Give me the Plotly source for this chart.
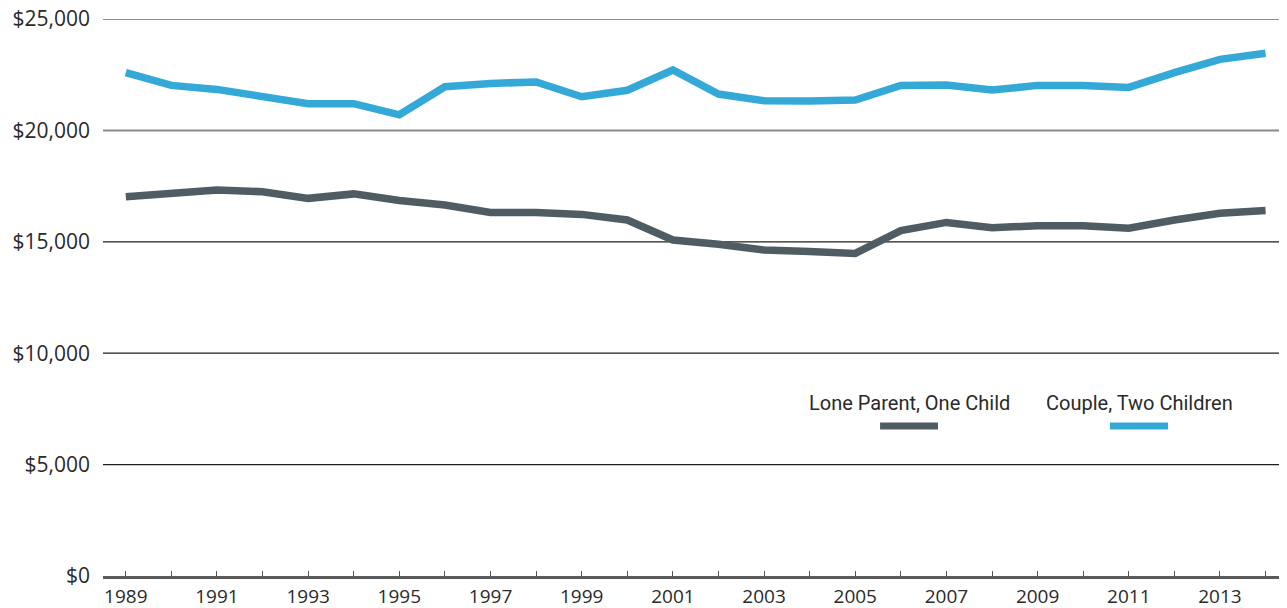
import plotly.graph_objects as go

years = list(range(1989, 2015))
lone_parent = [17020, 17200, 17320, 17250, 16950, 17150, 16850, 16650, 16320, 16320,
               16230, 15980, 15080, 14890, 14630, 14570, 14480, 15500, 15870, 15630,
               15720, 15720, 15610, 15980, 16280, 16400]
couple = [22590, 22020, 21840, 21510, 21200, 21200, 20700, 21960, 22110, 22170,
          21510, 21800, 22710, 21630, 21330, 21320, 21360, 22020, 22040, 21810,
          22020, 22020, 21930, 22590, 23190, 23460]
x_tick_labels = [str(y) if (y - 1989) % 2 == 0 else "" for y in years]
y_tick_values = [0, 5000, 10000, 15000, 20000, 25000]
y_tick_labels = ["$0", "$5,000", "$10,000", "$15,000", "$20,000", "$25,000"]
series_names = ["Lone Parent, One Child", "Couple, Two Children"]
series_colors = ["#505c64", "#34a9d8"]

fig = go.Figure()
for name, vals, col in zip(series_names, [lone_parent, couple], series_colors):
    fig.add_trace(go.Scatter(x=years, y=vals, mode="lines", name=name,
                             line=dict(color=col, width=7.5), hoverinfo="skip",
                             showlegend=False))

# gridlines
for v in y_tick_values[1:]:
    if v == 20000:
        fig.add_hline(y=v, line=dict(color="#8a8a8a", width=2), layer="below")
    else:
        fig.add_hline(y=v, line=dict(color="#1e1e1e", width=1.2), layer="below")

# custom legend: text above a line sample
legend_pos = [(0.6563, 0.7052), (0.8505, 0.8995)]
for name, col, (x0, x1) in zip(series_names, series_colors, legend_pos):
    fig.add_annotation(x=(x0 + x1) / 2, y=0.311, xref="paper", yref="paper",
                       text=name, showarrow=False, xanchor="center", yanchor="middle",
                       font=dict(family="Roboto", size=20, color="#2a2a2a"))
    fig.add_shape(type="line", xref="paper", yref="paper", x0=x0, x1=x1,
                  y0=0.2693, y1=0.2693, line=dict(color=col, width=7))

fig.update_layout(
    width=1279, height=600,
    margin=dict(l=95, r=0, t=11, b=32),
    paper_bgcolor="white", plot_bgcolor="white",
    font=dict(family="Open Sans", color="#2a2a2a"),
    xaxis=dict(range=[1988.5, 2014.47], tickvals=years, ticktext=x_tick_labels,
               ticks="inside", ticklen=5, tickwidth=1, tickcolor="#555555",
               showline=True, linecolor="#5a5a5a", linewidth=3,
               showgrid=False, zeroline=False, automargin=False,
               tickfont=dict(family="Open Sans", size=19, color="#2a2a2a"),
               ticklabelstandoff=1, ticklabeloverflow="allow"),
    yaxis=dict(range=[0, 25000], tickvals=y_tick_values, ticktext=y_tick_labels,
               showgrid=False, zeroline=False, ticks="", automargin=False,
               tickfont=dict(family="Open Sans", size=21, color="#2a2a2a"),
               ticklabelstandoff=12, ticklabeloverflow="allow"),
)

fig.write_html("out.html")
